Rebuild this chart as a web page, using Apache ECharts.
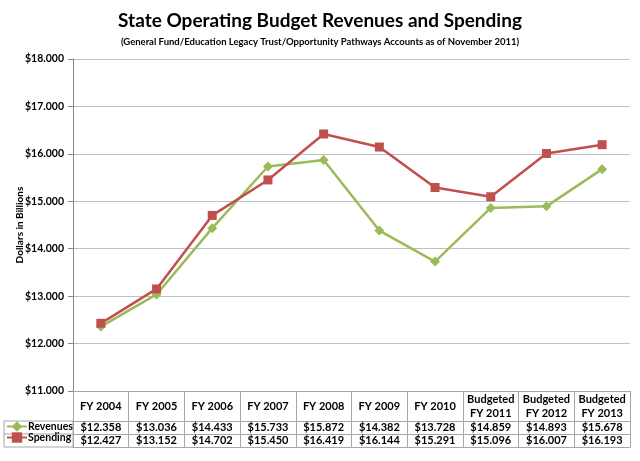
<!DOCTYPE html>
<html>
<head>
<meta charset="utf-8">
<script src="https://cdn.jsdelivr.net/npm/echarts@6/dist/echarts.min.js"></script>
<style>
  html, body { margin: 0; padding: 0; background: #fff; }
  #chart { width: 640px; height: 461px; }
</style>
</head>
<body>
<div id="chart"></div>
<script>
// 数据
var categories = ['FY 2004', 'FY 2005', 'FY 2006', 'FY 2007', 'FY 2008', 'FY 2009', 'FY 2010',
  'Budgeted\nFY 2011', 'Budgeted\nFY 2012', 'Budgeted\nFY 2013'];
var revenues = [12.358, 13.036, 14.433, 15.733, 15.872, 14.382, 13.728, 14.859, 14.893, 15.678];
var spending = [12.427, 13.152, 14.702, 15.450, 16.419, 16.144, 15.291, 15.096, 16.007, 16.193];
var yTicks = { min: 11, max: 18, interval: 1 };

function money(v) { return '$' + v.toFixed(3); }

var font = 'Lato';
var tableColor = '#a6a6a6';
var chart = echarts.init(document.getElementById('chart'));

// 表格行（用额外的 x 轴来画）
function rowAxis(data, offset, len) {
  return {
    type: 'category',
    gridIndex: 0,
    position: 'bottom',
    offset: offset,
    data: data,
    boundaryGap: true,
    axisLine: { show: true, lineStyle: { color: tableColor, width: 1 } },
    axisTick: { show: len > 0, length: len, interval: 0, lineStyle: { color: tableColor } },
    axisLabel: {
      show: len > 0, interval: 0, margin: len / 2, verticalAlign: 'middle',
      fontFamily: font, fontWeight: 'bold', fontSize: 11, color: '#000', lineHeight: 14
    },
    splitLine: { show: false }
  };
}

var option = {
  backgroundColor: '#fff',
  animation: false,
  title: {
    text: 'State Operating Budget Revenues and Spending',
    subtext: '(General Fund/Education Legacy Trust/Opportunity Pathways Accounts as of November 2011)',
    left: 'center',
    top: 6,
    itemGap: 7,
    textStyle: { fontFamily: font, fontWeight: 'bold', fontSize: 19, color: '#000' },
    subtextStyle: { fontFamily: font, fontWeight: 'bold', fontSize: 9.5, color: '#000' }
  },
  color: ['#9bbb59', '#c0504d'],
  legend: {
    orient: 'vertical',
    left: 6,
    top: 421,
    itemGap: 0,
    itemWidth: 20,
    itemHeight: 13,
    padding: 0,
    textStyle: { fontFamily: font, fontWeight: 'bold', fontSize: 10.5, color: '#000', padding: [0, 0, 0, -4] },
    data: ['Revenues', 'Spending']
  },
  grid: { left: 73, right: 10, top: 59, bottom: 70 },
  xAxis: [
    rowAxis(categories, 0, 30),
    rowAxis(revenues.map(money), 30, 13),
    rowAxis(spending.map(money), 43, 13),
    rowAxis(categories.map(function () { return ''; }), 56, 0)
  ],
  yAxis: {
    type: 'value',
    min: yTicks.min,
    max: yTicks.max,
    interval: yTicks.interval,
    name: 'Dollars in Billions',
    nameLocation: 'middle',
    nameGap: 48,
    nameMoveOverlap: false,
    nameTextStyle: { fontFamily: font, fontWeight: 'bold', fontSize: 10, color: '#000' },
    axisLine: { show: true, lineStyle: { color: '#868686' } },
    axisTick: { show: true, length: 5, lineStyle: { color: '#868686' } },
    axisLabel: { formatter: money, fontFamily: font, fontWeight: 'bold', fontSize: 10.5, color: '#000', margin: 9 },
    splitLine: { lineStyle: { color: '#c0c0c0', width: 1 } }
  },
  graphic: [
    { type: 'rect', shape: { x: 4, y: 421, width: 69, height: 26 }, style: { fill: 'none', stroke: tableColor, lineWidth: 1 } },
    { type: 'line', shape: { x1: 4, y1: 434, x2: 73, y2: 434 }, style: { stroke: tableColor, lineWidth: 1 } }
  ],
  series: [
    {
      name: 'Revenues',
      type: 'line',
      xAxisIndex: 0,
      data: revenues,
      symbol: 'diamond',
      symbolSize: 10,
      lineStyle: { width: 2.5 }
    },
    {
      name: 'Spending',
      type: 'line',
      xAxisIndex: 0,
      data: spending,
      symbol: 'rect',
      symbolSize: 9,
      lineStyle: { width: 2.5 }
    }
  ]
};

chart.setOption(option);
</script>
</body>
</html>
